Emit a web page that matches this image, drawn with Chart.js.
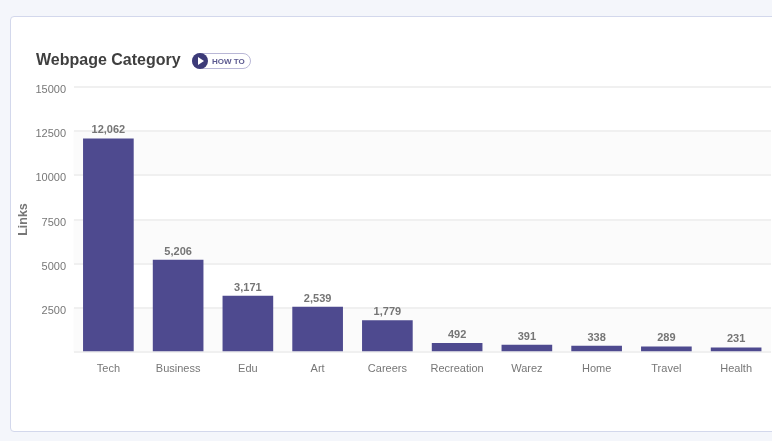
<!DOCTYPE html>
<html>
<head>
<meta charset="utf-8">
<script src="https://cdn.jsdelivr.net/npm/chart.js@4"></script>
<style>
  html, body { margin: 0; height: 100%; overflow: hidden; background: #f4f6fb; font-family: "Liberation Sans", Arial, sans-serif; }
  .card { position: absolute; left: 10px; top: 16px; width: 800px; height: 414px; background: #fff; border: 1px solid #d3d8ec; border-radius: 4px; }
  .wrap { position: absolute; left: 0; top: 0; width: 771px; height: 441px; }
  h2 { position: absolute; left: 36px; top: 50px; margin: 0; font-size: 16px; line-height: 19px; font-weight: bold; color: #3f3f3f; }
  .howto { position: absolute; left: 192px; top: 53px; width: 59px; height: 16px; box-sizing: border-box; border: 1px solid #b9b7d6; border-radius: 8px; }
  .howto i { position: absolute; left: -1px; top: -1px; width: 16px; height: 16px; border-radius: 50%; background: #3c3a78; }
  .howto i::after { content: ""; position: absolute; left: 6px; top: 4px; border-left: 6px solid #fff; border-top: 4px solid transparent; border-bottom: 4px solid transparent; }
  .howto span { position: absolute; left: 19px; top: 1px; font-size: 8px; line-height: 13px; font-weight: bold; color: #5c5a90; white-space: nowrap; }
</style>
</head>
<body>
<div class="card"></div>
<div class="wrap"><canvas id="chart-category"></canvas></div>
<h2>Webpage Category</h2>
<div class="howto"><i></i><span>HOW TO</span></div>
<script>
const categories = ["Tech", "Business", "Edu", "Art", "Careers", "Recreation", "Warez", "Home", "Travel", "Health"];
const links = [12062, 5206, 3171, 2539, 1779, 492, 391, 338, 289, 231];
const yMax = 15000;
const yStep = 2500;

// alternating grey bands behind the grid
const bandsPlugin = {
  id: "bands",
  beforeDraw(chart) {
    const { ctx, chartArea, scales } = chart;
    ctx.save();
    ctx.fillStyle = "#fbfbfb";
    for (let v = 0; v < yMax; v += yStep * 2) {
      const top = scales.y.getPixelForValue(v + yStep);
      const bottom = scales.y.getPixelForValue(v);
      ctx.fillRect(chartArea.left, top, chartArea.width, bottom - top);
    }
    ctx.restore();
  },
};

// value labels above the bars
const valuesPlugin = {
  id: "values",
  afterDatasetsDraw(chart) {
    const { ctx } = chart;
    ctx.save();
    ctx.font = "bold 11px 'Liberation Sans', Arial, sans-serif";
    ctx.fillStyle = "#757575";
    ctx.textAlign = "center";
    ctx.textBaseline = "bottom";
    chart.getDatasetMeta(0).data.forEach((bar, i) => {
      ctx.fillText(links[i].toLocaleString("en-US"), bar.x, bar.y - 3);
    });
    ctx.restore();
  },
};

new Chart(document.getElementById("chart-category"), {
  type: "bar",
  data: {
    labels: categories,
    datasets: [
      {
        label: "Links",
        data: links,
        backgroundColor: "#4e4a8f",
        barThickness: 50,
      },
    ],
  },
  plugins: [bandsPlugin, valuesPlugin],
  options: {
    responsive: true,
    maintainAspectRatio: false,
    animation: false,
    layout: { padding: { top: 87, right: 0, bottom: 0, left: 0 } },
    scales: {
      x: {
        afterFit(scale) {
          scale.height = 89;
        },
        grid: { display: false },
        border: { display: false },
        ticks: {
          color: "#777",
          font: { family: "'Liberation Sans', Arial, sans-serif", size: 11 },
          padding: 2,
          maxRotation: 0,
          autoSkip: false,
        },
      },
      y: {
        min: 0,
        max: yMax,
        afterFit(scale) {
          scale.width = 73.5;
        },
        title: {
          display: true,
          text: "Links",
          color: "#777",
          font: { family: "'Liberation Sans', Arial, sans-serif", size: 12.5, weight: "bold" },
          padding: { top: 16, bottom: 0 },
        },
        grid: { color: "#f0f0f0", lineWidth: 2, drawTicks: false },
        border: { display: false },
        ticks: {
          stepSize: yStep,
          color: "#777",
          font: { family: "'Liberation Sans', Arial, sans-serif", size: 11 },
          padding: 7.5,
          labelOffset: 3,
          callback: (v) => (v === 0 ? "" : String(v)),
        },
      },
    },
    plugins: {
      legend: { display: false },
      tooltip: { mode: "index", intersect: false },
    },
  },
});
</script>
</body>
</html>
